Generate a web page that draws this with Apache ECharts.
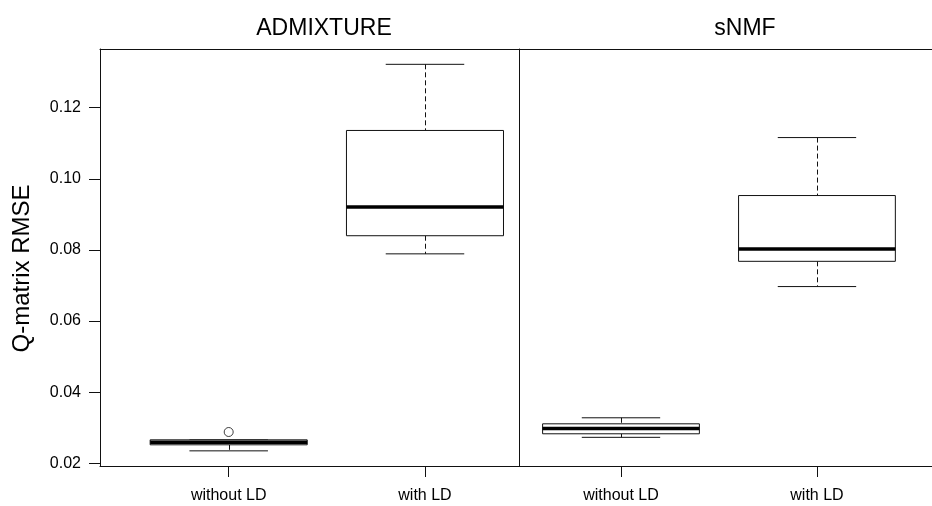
<!DOCTYPE html>
<html>
<head>
<meta charset="utf-8">
<script src="https://cdn.jsdelivr.net/npm/echarts@6/dist/echarts.min.js"></script>
<style>
html,body{margin:0;padding:0;background:#fff;}
#chart{width:932px;height:506px;}
</style>
</head>
<body>
<div id="chart"></div>
<script>
// ---- data ----
var panels = ['ADMIXTURE', 'sNMF'];
var categories = ['without LD', 'with LD'];
var categoryPositions = [1, 2];
// [lower whisker, Q1, median, Q3, upper whisker]
var admixtureStats = [
  [0.0235, 0.0252, 0.0259, 0.0266, 0.0266],
  [0.0789, 0.0840, 0.0921, 0.1136, 0.1322]
];
var snmfStats = [
  [0.0273, 0.0283, 0.0298, 0.0311, 0.0328],
  [0.0697, 0.0768, 0.0803, 0.0953, 0.1116]
];
// [category index, value]
var admixtureOutliers = [[0, 0.0288]];
var snmfOutliers = [];
var yTicks = [0.02, 0.04, 0.06, 0.08, 0.10, 0.12];
var yAxisTitle = 'Q-matrix RMSE';

// ---- layout ----
var FONT = 'Liberation Sans, Arial, sans-serif';
var INK = '#111';
var yMin = 0.01924, yMax = 0.13651;
var boxWidth = 0.8;
var grids = [
  {left: 100, top: 49, width: 419, height: 417},
  {left: 519, top: 49, width: 413, height: 417}
];
var xLimits = [[0.3444, 2.479], [0.4796, 2.587]];

function toBoxData(stats) {
  return stats.map(function (s, i) {
    return [categoryPositions[i]].concat(s);
  });
}
function toOutlierData(out) {
  return out.map(function (o) { return [categoryPositions[o[0]], o[1]]; });
}

function renderBox(params, api) {
  var x = api.value(0);
  var lo = api.value(1), q1 = api.value(2), med = api.value(3), q3 = api.value(4), hi = api.value(5);
  var pc = api.coord([x, med]);
  var left = api.coord([x - boxWidth / 2, med])[0];
  var right = api.coord([x + boxWidth / 2, med])[0];
  var capL = api.coord([x - boxWidth / 4, med])[0];
  var capR = api.coord([x + boxWidth / 4, med])[0];
  var yLo = api.coord([x, lo])[1], yQ1 = api.coord([x, q1])[1];
  var yQ3 = api.coord([x, q3])[1], yHi = api.coord([x, hi])[1];
  var cx = Math.round(pc[0]) + 0.5;
  var solid = {stroke: INK, lineWidth: 1, fill: null};
  var dashed = {stroke: INK, lineWidth: 1, lineDash: [5, 3]};
  var children = [
    {type: 'line', shape: {x1: cx, y1: yHi, x2: cx, y2: yQ3}, style: dashed},
    {type: 'line', shape: {x1: cx, y1: yQ1, x2: cx, y2: yLo}, style: dashed},
    {type: 'line', shape: {x1: capL, y1: yHi, x2: capR, y2: yHi}, style: solid},
    {type: 'line', shape: {x1: capL, y1: yLo, x2: capR, y2: yLo}, style: solid},
    {type: 'rect', shape: {x: left, y: yQ3, width: right - left, height: yQ1 - yQ3}, style: {stroke: INK, lineWidth: 1, fill: '#fff'}},
    {type: 'line', shape: {x1: left, y1: pc[1], x2: right, y2: pc[1]}, style: {stroke: '#000', lineWidth: 3.5}}
  ];
  return {type: 'group', children: children};
}

var chart = echarts.init(document.getElementById('chart'), null, {renderer: 'canvas'});

var xAxes = [], yAxes = [], series = [];
var allStats = [admixtureStats, snmfStats];
var allOut = [admixtureOutliers, snmfOutliers];
for (var g = 0; g < 2; g++) {
  // bottom axis
  xAxes.push({
    type: 'value', gridIndex: g, position: 'bottom',
    min: xLimits[g][0], max: xLimits[g][1],
    splitLine: {show: false},
    axisLine: {show: true, onZero: false, lineStyle: {color: INK, width: 1}},
    axisTick: {show: true, inside: false, length: 11, customValues: categoryPositions, lineStyle: {color: INK}},
    axisLabel: {
      show: true, margin: 22, customValues: categoryPositions,
      fontFamily: FONT, fontSize: 16, color: '#000',
      formatter: function (v) { return categories[categoryPositions.indexOf(v)]; }
    }
  });
  // top frame axis
  xAxes.push({
    type: 'value', gridIndex: g, position: 'top',
    min: xLimits[g][0], max: xLimits[g][1],
    splitLine: {show: false},
    axisLine: {show: true, onZero: false, lineStyle: {color: INK, width: 1}},
    axisTick: {show: false}, axisLabel: {show: false}
  });
  yAxes.push(g === 0 ? {
    type: 'value', gridIndex: 0, min: yMin, max: yMax,
    name: yAxisTitle, nameLocation: 'middle', nameRotate: 90, nameGap: 66,
    nameTextStyle: {fontFamily: FONT, fontSize: 24, color: '#000', padding: [0, 22, 0, 0]},
    splitLine: {show: false},
    axisLine: {show: true, onZero: false, lineStyle: {color: INK, width: 1}},
    axisTick: {show: true, inside: false, length: 11, customValues: yTicks, lineStyle: {color: INK}},
    axisLabel: {
      show: true, margin: 19, customValues: yTicks,
      fontFamily: FONT, fontSize: 16, color: '#000',
      formatter: function (v) { return v.toFixed(2); }
    }
  } : {
    type: 'value', gridIndex: 1, min: yMin, max: yMax,
    splitLine: {show: false},
    axisLine: {show: true, onZero: false, lineStyle: {color: INK, width: 1}},
    axisTick: {show: false}, axisLabel: {show: false}
  });
  series.push({
    type: 'custom', xAxisIndex: g * 2, yAxisIndex: g,
    renderItem: renderBox, data: toBoxData(allStats[g]),
    encode: {x: 0, y: [1, 2, 3, 4, 5]}, silent: true, clip: false
  });
  series.push({
    type: 'scatter', xAxisIndex: g * 2, yAxisIndex: g,
    symbol: 'circle', symbolSize: 9,
    itemStyle: {color: '#fff', borderColor: INK, borderWidth: 1},
    data: toOutlierData(allOut[g]), silent: true, z: 5
  });
}

chart.setOption({
  backgroundColor: '#fff',
  animation: false,
  title: [
    {text: panels[0], left: 319, top: 12, textAlign: 'center',
     textStyle: {fontFamily: FONT, fontSize: 23, fontWeight: 'normal', color: '#000'}},
    {text: panels[1], left: 740, top: 12, textAlign: 'center',
     textStyle: {fontFamily: FONT, fontSize: 23, fontWeight: 'normal', color: '#000'}}
  ],
  grid: grids,
  xAxis: xAxes,
  yAxis: yAxes,
  series: series
});
</script>
</body>
</html>
